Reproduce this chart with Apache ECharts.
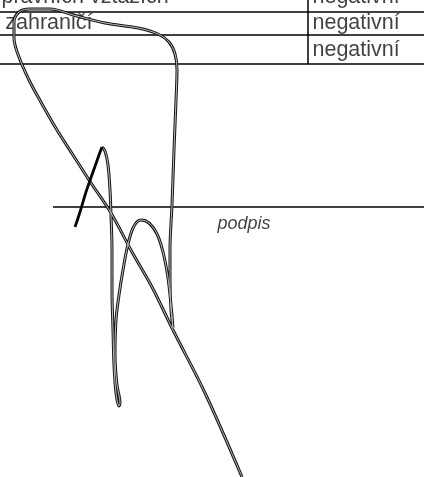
<!DOCTYPE html>
<html lang="cs">
<head>
    <meta charset="UTF-8">
    <title>podpis</title>
    <script type="text/javascript" src="https://cdn.jsdelivr.net/npm/echarts@6/dist/echarts.min.js"></script>
    <style>
        body{
            padding: 0px;
            margin: 0px;
            background-color: #ffffff;
        }
        #doc{
            width: 424px;
            height: 477px;
        }
    </style>
</head>
<body>
    <div id="doc"></div>
    <script>
        // table texts
        var leftTexts = ['právních vztazích', 'v zahraničí', ''];
        var rightTexts = ['negativní', 'negativní', 'negativní'];
        var signLabel = 'podpis';

        // horizontal rules of the table (y) and the column divider (x)
        var tableRules = [12, 35, 64];
        var columnX = 308;
        var rowCenters = [-3, 23, 50];

        // signature rule
        var signRule = [[53, 207], [424, 207]];

        // signature strokes
        var strokeStart = [[75, 227], [80, 212], [86, 192], [93, 172], [99, 155], [102, 147]];
        var strokeMain = [
            [102, 147], [105, 151], [108, 165], [110, 190], [111, 215], [112, 250], [112, 290],
            [113, 330], [114, 365], [116, 393], [119, 406], [120, 403], [117, 385], [115, 355],
            [116, 320], [119, 295], [123, 270], [128, 244], [134, 226], [141, 220], [149, 223],
            [157, 234], [163, 252], [168, 278], [171, 305], [173, 328], [171, 310], [170, 280],
            [170, 250], [172, 205], [174, 150], [176, 100], [177, 70], [175, 54], [169, 42],
            [158, 34], [138, 28], [105, 23], [73, 15], [50, 9], [30, 9], [19, 12], [14, 22],
            [14, 38], [19, 57], [29, 80], [42, 104], [57, 130], [73, 155], [91, 183], [111, 213],
            [132, 252], [152, 287], [173, 330], [205, 393], [242, 477]
        ];

        var chart = echarts.init(document.getElementById('doc'));

        var series = [];
        var ink = '#000000';

        // table lines
        tableRules.forEach(function (y) {
            series.push({
                type: 'line', data: [[0, y], [424, y]], symbol: 'none', silent: true,
                lineStyle: {color: ink, width: 1.5}
            });
        });
        series.push({
            type: 'line', data: [[columnX, -5], [columnX, tableRules[2]]], symbol: 'none', silent: true,
            lineStyle: {color: ink, width: 1.5}
        });
        series.push({
            type: 'line', data: signRule, symbol: 'none', silent: true,
            lineStyle: {color: ink, width: 1.7}
        });

        // table texts
        var textPoints = [];
        leftTexts.forEach(function (t, i) {
            if (t) textPoints.push({value: [i === 1 ? -12 : 1, rowCenters[i]], name: t});
        });
        rightTexts.forEach(function (t, i) {
            textPoints.push({value: [columnX + 4, rowCenters[i]], name: t});
        });
        series.push({
            type: 'scatter', data: textPoints, symbolSize: 1, clip: false, silent: true,
            itemStyle: {color: 'rgba(0,0,0,0)'},
            label: {
                show: true, position: 'right', distance: 0, formatter: '{b}',
                fontFamily: 'Liberation Sans, Arial', fontSize: 21.5, color: '#111'
            }
        });
        series.push({
            type: 'scatter', data: [{value: [217, 224], name: signLabel}], symbolSize: 1, silent: true,
            itemStyle: {color: 'rgba(0,0,0,0)'},
            label: {
                show: true, position: 'right', distance: 0, formatter: '{b}',
                fontFamily: 'Liberation Sans, Arial', fontStyle: 'italic', fontSize: 18, color: '#111'
            }
        });

        // signature, drawn as a scanned outline stroke
        series.push({
            type: 'line', data: strokeMain, symbol: 'none', smooth: 0.35, silent: true,
            lineStyle: {color: '#151515', width: 3}
        });
        series.push({
            type: 'line', data: strokeMain, symbol: 'none', smooth: 0.35, silent: true,
            lineStyle: {color: '#bdbdbd', width: 1}
        });
        series.push({
            type: 'line', data: strokeStart, symbol: 'none', smooth: 0.35, silent: true,
            lineStyle: {color: '#050505', width: 2.8}
        });

        chart.setOption({
            animation: false,
            backgroundColor: '#ffffff',
            grid: {left: 0, right: 0, top: 0, bottom: 0},
            xAxis: {type: 'value', min: 0, max: 424, show: false},
            yAxis: {type: 'value', min: 0, max: 477, inverse: true, show: false},
            series: series
        });
    </script>
</body>
</html>
